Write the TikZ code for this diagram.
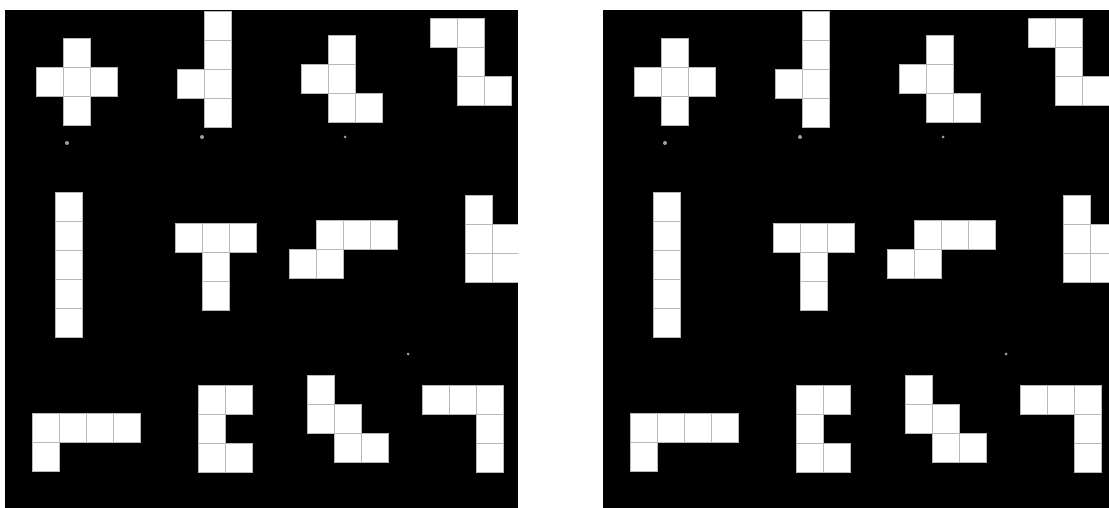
\documentclass[tikz,border=0pt]{standalone}
\usepackage{tikz}

\begin{document}
\begin{tikzpicture}[x=1pt,y=-1pt,cell/.style={fill=white,draw=gray!55,line width=0.9pt},speck/.style={fill=gray!75}]
\useasboundingbox (0,0) rectangle (1109,508);
% two panels, the second is the same board shifted right
\foreach \dx/\w in {0/513,598/506}{
\begin{scope}
\clip (5+\dx,10) rectangle ++(\w,498);
\fill[black] (5+\dx,10) rectangle ++(\w,498);
\begin{scope}[shift={(\dx,0)}]
\foreach \px/\py/\cl in {36/38/{1/0,0/1,1/1,2/1,1/2},177/11/{1/0,1/1,0/2,1/2,1/3},301/35/{1/0,0/1,1/1,1/2,2/2},430/18/{0/0,1/0,1/1,1/2,2/2},
  55/192/{0/0,0/1,0/2,0/3,0/4},175/223/{0/0,1/0,2/0,1/1,1/2},289/220/{1/0,2/0,3/0,0/1,1/1},465/195/{0/0,0/1,1/1,0/2,1/2},
  32/413/{0/0,1/0,2/0,3/0,0/1},198/385/{0/0,1/0,0/1,0/2,1/2},307/375/{0/0,0/1,1/1,1/2,2/2},422/385/{0/0,1/0,2/0,2/1,2/2}}{
  \foreach \i/\j in \cl
    \draw[cell] (\px+\i*27,\py+\j*29) rectangle ++(27,29);
}
\fill[speck] (67,143) circle (2);\fill[speck] (202,137) circle (2);
\fill[speck] (345,137) circle (1.5);\fill[speck] (408,354) circle (1.5);
\end{scope}
\end{scope}
}
\end{tikzpicture}
\end{document}
